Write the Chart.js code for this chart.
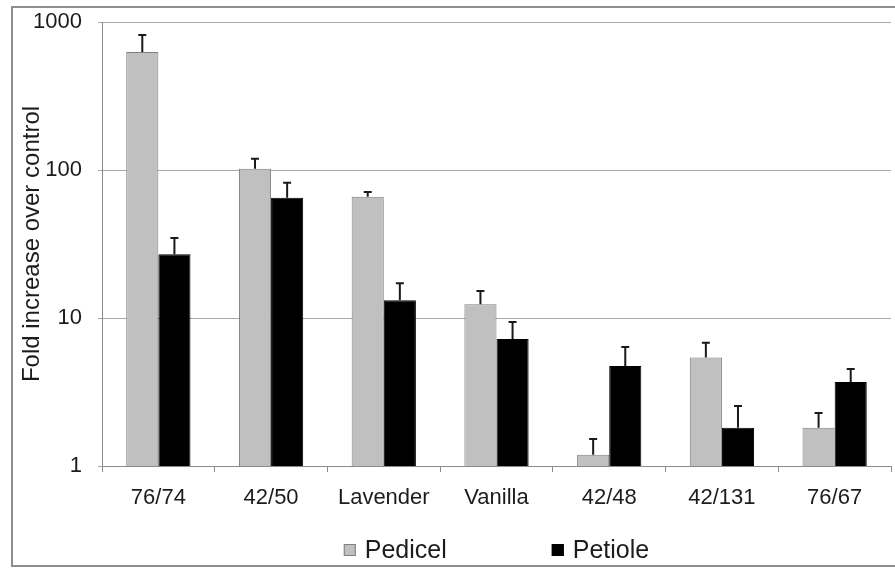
<!DOCTYPE html>
<html>
<head>
<meta charset="utf-8">
<script src="https://cdn.jsdelivr.net/npm/chart.js@4.4.0/dist/chart.umd.min.js"></script>
<style>
  html, body { margin: 0; padding: 0; background: #fff; }
  #wrap { width: 895px; height: 568px; position: relative; }
</style>
</head>
<body>
<div id="wrap"><canvas id="myChart"></canvas></div>
<script>
// Data
var categories = ['76/74', '42/50', 'Lavender', 'Vanilla', '42/48', '42/131', '76/67'];
var pedicel = [627, 102, 66, 12.4, 1.19, 5.4, 1.81];
var pedicelErr = [190, 17, 5, 2.8, 0.33, 1.4, 0.47];
var petiole = [27, 65, 13.2, 7.2, 4.74, 1.81, 3.69];
var petioleErr = [7.7, 17, 4, 2.2, 1.63, 0.73, 0.83];
var yTicks = [1, 10, 100, 1000];

var errors = [pedicelErr, petioleErr];
var fontFamily = '"Liberation Sans", Arial, sans-serif';
var textColor = '#1c1c1c';

// white background + grey frame around the whole figure
var framePlugin = {
    id: 'frame',
    beforeDraw: function (chart) {
        var c = chart.ctx;
        c.save();
        c.fillStyle = '#fff';
        c.fillRect(0, 0, chart.width, chart.height);
        c.strokeStyle = '#8e8e8e';
        c.lineWidth = 2;
        c.strokeRect(12, 7, chart.width + 10, chart.height - 9);
        c.restore();
    }
};

// upper error bars with a small cap
var errorBarPlugin = {
    id: 'errorBars',
    afterDatasetsDraw: function (chart) {
        var c = chart.ctx;
        var y = chart.scales.y;
        c.save();
        c.strokeStyle = '#1a1a1a';
        c.lineWidth = 2;
        chart.data.datasets.forEach(function (ds, i) {
            var meta = chart.getDatasetMeta(i);
            meta.data.forEach(function (bar, j) {
                var top = y.getPixelForValue(ds.data[j] + errors[i][j]);
                c.beginPath();
                c.moveTo(bar.x, bar.y);
                c.lineTo(bar.x, top);
                c.moveTo(bar.x - 4, top);
                c.lineTo(bar.x + 4, top);
                c.stroke();
            });
        });
        c.restore();
    }
};

// legend at the bottom, centred under the plot area
var legendPlugin = {
    id: 'bottomLegend',
    afterDraw: function (chart) {
        var c = chart.ctx;
        var area = chart.chartArea;
        var box = 12, gap = 9, between = 105;
        c.save();
        c.font = '25px ' + fontFamily;
        var items = chart.data.datasets.map(function (ds) {
            return { ds: ds, w: box + gap + c.measureText(ds.label).width };
        });
        var total = items.reduce(function (s, it) { return s + it.w; }, 0) + between * (items.length - 1);
        var x = (area.left + area.right) / 2 - total / 2;
        var yc = chart.height - 18;
        items.forEach(function (it) {
            c.fillStyle = it.ds.backgroundColor;
            c.fillRect(x, yc - box / 2, box, box);
            c.strokeStyle = it.ds.borderColor;
            c.lineWidth = 1;
            c.strokeRect(x + 0.5, yc - box / 2 + 0.5, box - 1, box - 1);
            c.fillStyle = textColor;
            c.textBaseline = 'middle';
            c.fillText(it.ds.label, x + box + gap, yc + 1);
            x += it.w + between;
        });
        c.restore();
    }
};

var ctx = document.getElementById('myChart').getContext('2d');
var myChart = new Chart(ctx, {
    type: 'bar',
    data: {
        labels: categories,
        datasets: [{
            label: 'Pedicel',
            data: pedicel,
            backgroundColor: '#c0c0c0',
            borderColor: '#7f7f7f',
            borderWidth: 1,
            categoryPercentage: 0.57,
            barPercentage: 1
        }, {
            label: 'Petiole',
            data: petiole,
            backgroundColor: '#000000',
            borderColor: '#000000',
            borderWidth: 1,
            categoryPercentage: 0.57,
            barPercentage: 1
        }]
    },
    options: {
        responsive: true,
        maintainAspectRatio: false,
        animation: false,
        layout: { padding: { top: 22, right: 4, bottom: 0, left: 0 } },
        plugins: {
            legend: { display: false },
            tooltip: { enabled: false }
        },
        scales: {
            x: {
                grid: { offset: true, drawOnChartArea: false, tickLength: 6, color: '#8a8a8a' },
                border: { color: '#8a8a8a', width: 1 },
                ticks: { padding: 13, color: textColor, font: { size: 22, family: fontFamily } },
                afterFit: function (s) { s.height = 102; }
            },
            y: {
                type: 'logarithmic',
                min: 1,
                max: 1000,
                afterBuildTicks: function (s) {
                    s.ticks = yTicks.map(function (v) { return { value: v }; });
                },
                ticks: {
                    padding: 16,
                    color: textColor,
                    font: { size: 22, family: fontFamily },
                    callback: function (v) { return String(v); }
                },
                grid: { color: '#a8a8a8', tickLength: 4 },
                border: { color: '#8a8a8a', width: 1 },
                title: {
                    display: true,
                    text: 'Fold increase over control',
                    color: textColor,
                    font: { size: 24, family: fontFamily },
                    padding: { top: 18, bottom: 0 }
                },
                afterFit: function (s) {
                    s.width = 102;
                    s.paddingTop = 0;
                    s.paddingBottom = 0;
                }
            }
        }
    },
    plugins: [framePlugin, errorBarPlugin, legendPlugin]
});
</script>
</body>
</html>
